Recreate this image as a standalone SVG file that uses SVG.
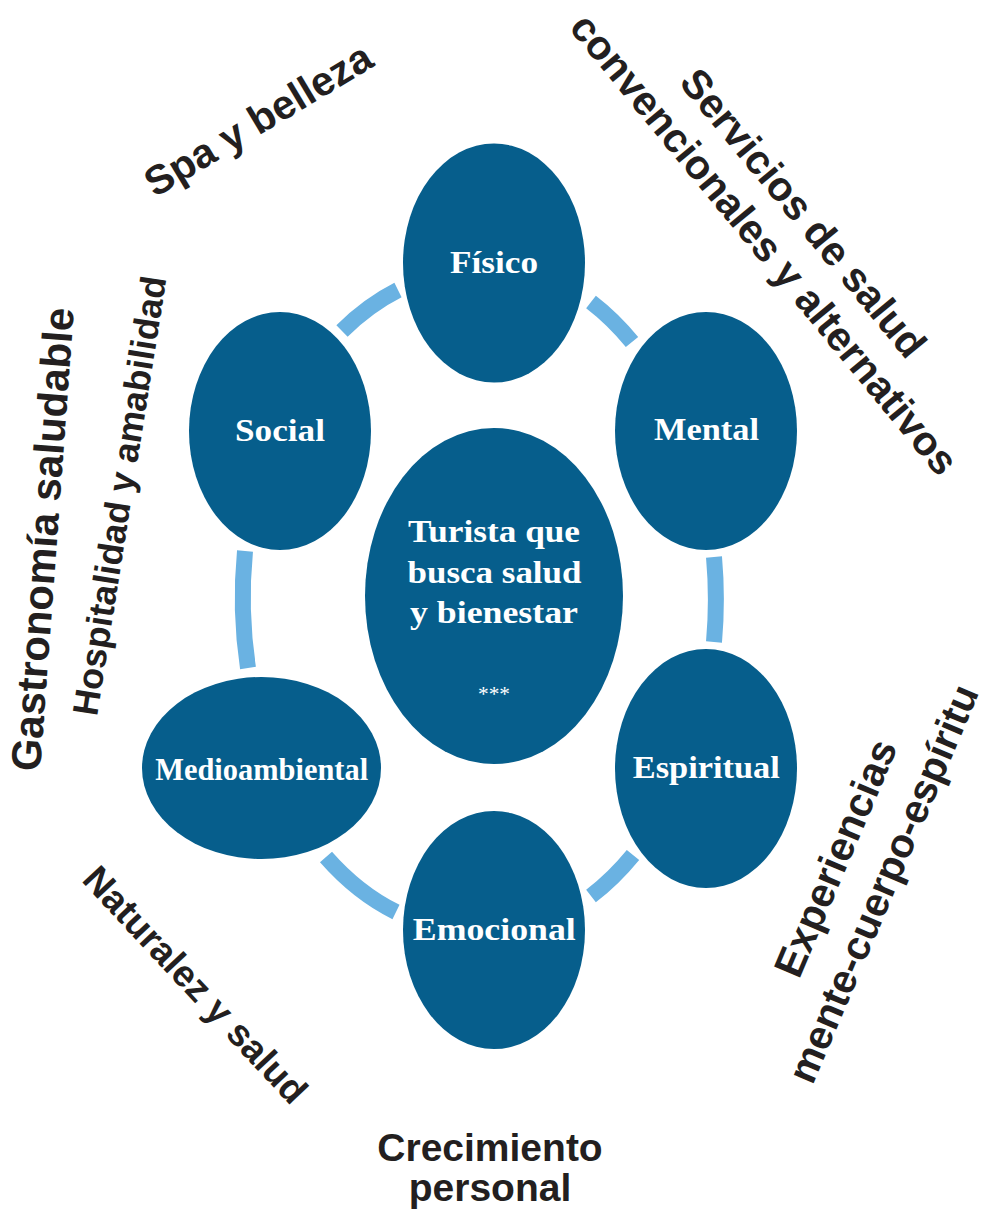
<svg xmlns="http://www.w3.org/2000/svg" width="986" height="1211" viewBox="0 0 986 1211">
  <style>
    .node { fill: #065E8C; }
    .lbl { font-family: "Liberation Serif", "Times New Roman", serif; font-weight: bold; font-size: 31px; fill: #FFFFFF; text-anchor: middle; }
    .stars { font-family: "Liberation Serif", "Times New Roman", serif; font-size: 22px; fill: #FFFFFF; text-anchor: middle; }
    .arc { fill: none; stroke: #6AB2E2; stroke-width: 16; stroke-linecap: butt; }
    .side { font-family: "Liberation Sans", Arial, Helvetica, sans-serif; font-weight: bold; fill: #231F20; }
  </style>

  <rect width="986" height="1211" fill="#FFFFFF"/>

  <!-- ring segments between the outer nodes -->
  <g id="connectors">
    <path class="arc" d="M342,331 A235,336 0 0 1 398,290"/>
    <path class="arc" d="M591,302 A235,336 0 0 1 632,342"/>
    <path class="arc" d="M714,557 A235,336 0 0 1 714,642"/>
    <path class="arc" d="M633,855 A235,336 0 0 1 591,896"/>
    <path class="arc" d="M396,912 A235,336 0 0 1 326,857"/>
    <path class="arc" d="M248,668 A235,336 0 0 1 245,551"/>
  </g>

  <!-- centre -->
  <g id="node-turista">
    <ellipse class="node" cx="494" cy="596" rx="129" ry="168"/>
    <text class="lbl" x="494" y="542" textLength="172" lengthAdjust="spacingAndGlyphs">Turista que</text>
    <text class="lbl" x="494.5" y="583" textLength="174" lengthAdjust="spacingAndGlyphs">busca salud</text>
    <text class="lbl" x="494" y="623" textLength="168" lengthAdjust="spacingAndGlyphs">y bienestar</text>
    <text class="stars" x="494" y="701" textLength="32" lengthAdjust="spacingAndGlyphs">***</text>
  </g>

  <!-- outer nodes -->
  <g id="node-fisico">
    <ellipse class="node" cx="494" cy="263" rx="91" ry="119.5"/>
    <text class="lbl" x="494" y="273" textLength="88" lengthAdjust="spacingAndGlyphs">Físico</text>
  </g>
  <g id="node-mental">
    <ellipse class="node" cx="706" cy="431" rx="91" ry="119"/>
    <text class="lbl" x="706.5" y="440" textLength="105" lengthAdjust="spacingAndGlyphs">Mental</text>
  </g>
  <g id="node-espiritual">
    <ellipse class="node" cx="706" cy="768.5" rx="91" ry="119.5"/>
    <text class="lbl" x="706.3" y="778" textLength="147" lengthAdjust="spacingAndGlyphs">Espiritual</text>
  </g>
  <g id="node-emocional">
    <ellipse class="node" cx="494" cy="930" rx="91" ry="119"/>
    <text class="lbl" x="494.3" y="940" textLength="163" lengthAdjust="spacingAndGlyphs">Emocional</text>
  </g>
  <g id="node-medioambiental">
    <ellipse class="node" cx="261.5" cy="768" rx="119.5" ry="91"/>
    <text class="lbl" x="261.7" y="780" textLength="213" lengthAdjust="spacingAndGlyphs">Medioambiental</text>
  </g>
  <g id="node-social">
    <ellipse class="node" cx="280" cy="431" rx="91" ry="119"/>
    <text class="lbl" x="280" y="441" textLength="90" lengthAdjust="spacingAndGlyphs">Social</text>
  </g>

  <!-- surrounding offer labels -->
  <g id="label-spa">
    <text class="side" font-size="41" transform="translate(155,198) rotate(-31)">Spa y belleza</text>
  </g>
  <g id="label-servicios">
    <text class="side" font-size="41" text-anchor="middle" transform="translate(792.5,222) rotate(50.5)">Servicios de salud</text>
    <text class="side" font-size="41" text-anchor="middle" transform="translate(753.5,253) rotate(50.5)">convencionales y alternativos</text>
  </g>
  <g id="label-gastronomia">
    <text class="side" font-size="42" transform="translate(40,772) rotate(-85.8)">Gastronomía saludable</text>
  </g>
  <g id="label-hospitalidad">
    <text class="side" font-size="36" transform="translate(97,717) rotate(-81)">Hospitalidad y amabilidad</text>
  </g>
  <g id="label-experiencias">
    <text class="side" font-size="41" text-anchor="middle" transform="translate(848.5,863.5) rotate(-67)">Experiencias</text>
    <text class="side" font-size="40.5" text-anchor="middle" transform="translate(896,889) rotate(-67)">mente-cuerpo-espíritu</text>
  </g>
  <g id="label-naturaleza">
    <text class="side" font-size="37.5" text-anchor="middle" transform="translate(186,993.5) rotate(47)">Naturalez y salud</text>
  </g>
  <g id="label-crecimiento">
    <text class="side" font-size="39" text-anchor="middle" x="490" y="1161">Crecimiento</text>
    <text class="side" font-size="39" text-anchor="middle" x="490" y="1201">personal</text>
  </g>
</svg>
